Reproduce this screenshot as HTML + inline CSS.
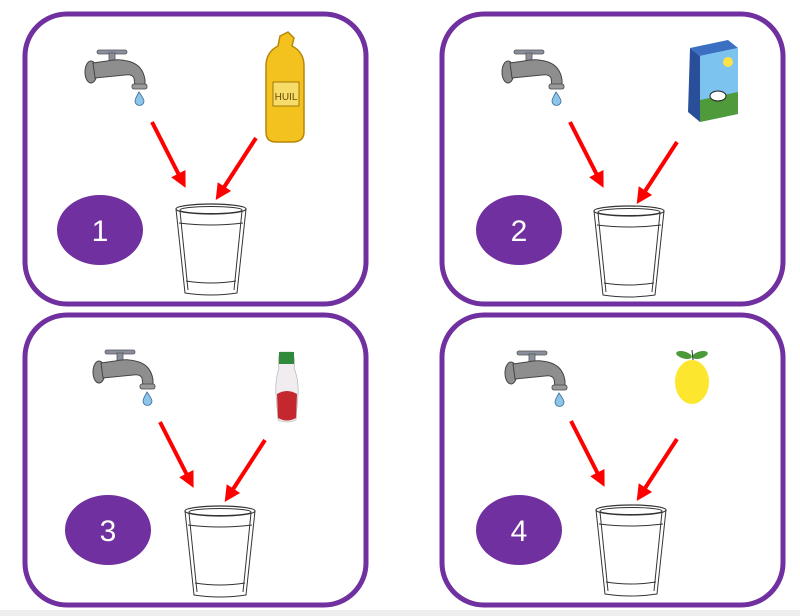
<!DOCTYPE html>
<html><head><style>
html,body{margin:0;padding:0;background:#fff;width:800px;height:616px;overflow:hidden}
svg{display:block}
text{font-family:"Liberation Sans",sans-serif}
</style></head><body>
<svg width="800" height="616" viewBox="0 0 800 616">
<defs>
<g id="tap">
  <rect x="12" y="2" width="30" height="4" rx="2" fill="#8a8f9c" stroke="#555" stroke-width="0.8"/>
  <rect x="24" y="5" width="6" height="8" fill="#8a8f9c" stroke="#555" stroke-width="0.8"/>
  <ellipse cx="6" cy="24" rx="6" ry="11" fill="#8e8e8e" stroke="#444" stroke-width="1"/>
  <path d="M8 15 L22 13 Q34 10 46 14 Q58 18 60 32 L60 38 L50 38 L49 30 Q47 26 40 27 L10 30 Z" fill="#8e8e8e" stroke="#444" stroke-width="1"/>
  <rect x="47" y="36" width="15" height="5" rx="2" fill="#9a9a9a" stroke="#444" stroke-width="0.8"/>
  <path d="M54 44 Q50 51 50 53 A4.5 4.5 0 0 0 59 53 Q59 51 54 44 Z" fill="#8cc4ea" stroke="#3a6c9a" stroke-width="0.8"/>
</g>
<g id="glass" fill="none" stroke="#333" stroke-width="1">
  <ellipse cx="35" cy="6" rx="35" ry="5" stroke-width="1.2"/>
  <ellipse cx="35" cy="7" rx="31" ry="3.5"/>
  <path d="M0 6 L9 90 Q35 94 61 90 L70 6"/>
  <path d="M4 8 L12 87 M66 8 L58 87"/>
  <path d="M3 20 Q35 24 67 20"/>
  <path d="M10 78 Q35 82 60 78"/>
</g>
<g id="arr">
  <line x1="0" y1="0" x2="0" y2="62" stroke="#f00" stroke-width="4"/>
  <polygon points="-8,58 8,58 0,74" fill="#f00"/>
</g>
</defs>

<!-- Panel 1 -->
<rect x="25" y="14" width="341" height="290" rx="42" fill="none" stroke="#7030a0" stroke-width="5"/>
<use href="#tap" x="85" y="48"/>
<g>
  <path d="M280 36 L288 32 L294 38 L292 46 Q304 52 304 66 L304 132 Q304 142 292 142 L276 142 Q266 142 266 132 L266 66 Q266 52 278 46 Z" fill="#f3c21e" stroke="#b7860a" stroke-width="1.5"/>
  <rect x="273" y="82" width="26" height="24" fill="#f7dc6a" stroke="#a27908" stroke-width="1"/>
  <text x="286" y="100" font-size="10" text-anchor="middle" fill="#6b4a00">HUIL</text>
</g>
<use href="#arr" transform="translate(152,122) rotate(-27)"/>
<use href="#arr" transform="translate(256,138) rotate(33)"/>
<use href="#glass" x="176" y="203"/>
<ellipse cx="100" cy="230" rx="43" ry="35" fill="#7030a0"/>
<text x="100" y="241" font-size="30" fill="#fff" text-anchor="middle">1</text>

<!-- Panel 2 -->
<rect x="442" y="14" width="341" height="290" rx="42" fill="none" stroke="#7030a0" stroke-width="5"/>
<use href="#tap" x="502" y="48"/>
<g>
  <polygon points="690,48 728,40 738,48 700,56" fill="#3a6fc2"/>
  <polygon points="690,48 700,56 700,122 688,112" fill="#2a4f9a"/>
  <polygon points="700,56 738,48 738,114 700,122" fill="#7cc4ef"/>
  <polygon points="700,100 738,92 738,114 700,122" fill="#4f9a3a"/>
  <circle cx="728" cy="62" r="5" fill="#ffe14a"/>
  <ellipse cx="718" cy="96" rx="8" ry="5" fill="#fff" stroke="#222" stroke-width="1"/>
</g>
<use href="#arr" transform="translate(570,122) rotate(-27)"/>
<use href="#arr" transform="translate(677,142) rotate(33)"/>
<use href="#glass" x="594" y="205"/>
<ellipse cx="519" cy="230" rx="43" ry="35" fill="#7030a0"/>
<text x="519" y="241" font-size="30" fill="#fff" text-anchor="middle">2</text>

<!-- Panel 3 -->
<rect x="25" y="315" width="341" height="290" rx="42" fill="none" stroke="#7030a0" stroke-width="5"/>
<use href="#tap" x="93" y="348"/>
<g>
  <path d="M280 352 L292 352 Q296 360 294 368 Q299 380 298 395 L296 420 Q287 424 278 420 L276 395 Q275 380 279 368 Q277 360 280 352 Z" fill="#f1ecf0" stroke="#aaa" stroke-width="0.6"/>
  <rect x="279" y="352" width="15" height="12" fill="#2f8a3c"/>
  <path d="M277 394 Q287 388 297 394 L296 418 Q287 423 278 418 Z" fill="#c4282e"/>
</g>
<use href="#arr" transform="translate(160,422) rotate(-27)"/>
<use href="#arr" transform="translate(265,440) rotate(33)"/>
<use href="#glass" x="185" y="505"/>
<ellipse cx="108" cy="530" rx="43" ry="35" fill="#7030a0"/>
<text x="108" y="541" font-size="30" fill="#fff" text-anchor="middle">3</text>

<!-- Panel 4 -->
<rect x="442" y="315" width="341" height="290" rx="42" fill="none" stroke="#7030a0" stroke-width="5"/>
<use href="#tap" x="505" y="349"/>
<g>
  <ellipse cx="684" cy="355" rx="8" ry="3.5" fill="#4a9a3a" transform="rotate(15 684 355)"/>
  <ellipse cx="700" cy="355" rx="8" ry="3.5" fill="#4a9a3a" transform="rotate(-15 700 355)"/>
  <line x1="692" y1="350" x2="693" y2="360" stroke="#333" stroke-width="1"/>
  <ellipse cx="692" cy="382" rx="17" ry="22" fill="#fde72e"/>
</g>
<use href="#arr" transform="translate(571,421) rotate(-27)"/>
<use href="#arr" transform="translate(677,439) rotate(33)"/>
<use href="#glass" x="596" y="504"/>
<ellipse cx="519" cy="530" rx="43" ry="35" fill="#7030a0"/>
<text x="519" y="541" font-size="30" fill="#fff" text-anchor="middle">4</text>

<rect x="0" y="610" width="800" height="6" fill="#eeeeee"/>
</svg>
</body></html>
